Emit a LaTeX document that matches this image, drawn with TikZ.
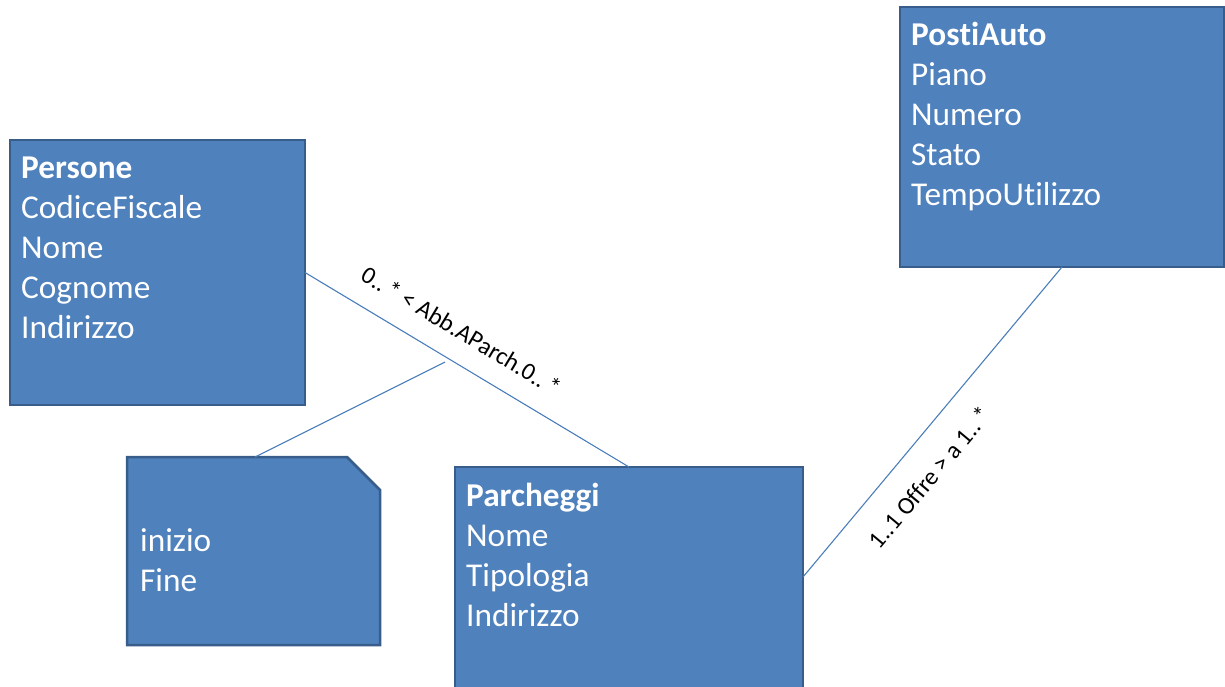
\documentclass[tikz,border=0pt]{standalone}
\usepackage{fontspec}
\setmainfont{Carlito}[RawFeature={-liga;-clig;-dlig}]
\usetikzlibrary{positioning}
\definecolor{klassefill}{HTML}{4F81BD}
\definecolor{klasserand}{HTML}{385D8A}
\definecolor{linkblau}{HTML}{4A7EBB}

\begin{document}
\begin{tikzpicture}[x=1pt, y=-1pt,
    klasse/.style={draw=klasserand, fill=klassefill, line width=2.5pt, rectangle, anchor=north west, inner sep=0pt, outer sep=0pt},
    attrib/.style={text=white, anchor=north west, align=left, inner sep=0pt, font=\fontsize{33.3}{40}\selectfont},
    link/.style={draw=linkblau, line width=1.1pt},
    rolle/.style={sloped, inner sep=0pt, font=\fontsize{24.5}{28}\selectfont}]

    \useasboundingbox (0,0) rectangle (1225,686);

    % classes
    \node[klasse, minimum width=295pt, minimum height=265pt] (persone) at (10,140) {};
    \node[klasse, minimum width=324pt, minimum height=260pt] (postiauto) at (900,7) {};
    \node[klasse, minimum width=348pt, minimum height=240pt] (parcheggi) at (455,467) {};

    % association class (note)
    \draw[draw=klasserand, fill=klassefill, line width=2.5pt]
        (127,457) -- (347,457) -- (380,490) -- (380,645) -- (127,645) -- cycle;
    \coordinate (notiz) at (255,457);
    \coordinate (assoz) at (445,362);

    % attributes
    \node[attrib] (persone-attr) at (21,150) {\strut\textbf{Persone}\\CodiceFiscale\\Nome\\Cognome\\Indirizzo};
    \node[attrib] (postiauto-attr) at (911,17) {\strut\textbf{Pos\kern0pt tiAuto}\\Piano\\Numero\\Stato\\TempoU\kern0pt til\kern0pt izzo};
    \node[attrib] (parcheggi-attr) at (466,478) {\strut\textbf{Parcheggi}\\Nome\\Tipologia\\Indirizzo};
    \node[attrib] (notiz-attr) at (140,523) {\strut inizio\\Fine};

    % associations
    \draw[link] (persone.east) -- node[rolle, pos=0.434, above=21pt] (abb-label) {0..\,* < Abb.AParch.0..\,*} (parcheggi.north);
    \draw[link] ([yshift=10pt]parcheggi.east) -- node[rolle, pos=0.39, below=24pt] (offre-label) {1..1 Offre > a 1..\,*} (postiauto.south);
    \draw[link] (notiz) -- (assoz);
\end{tikzpicture}
\end{document}
